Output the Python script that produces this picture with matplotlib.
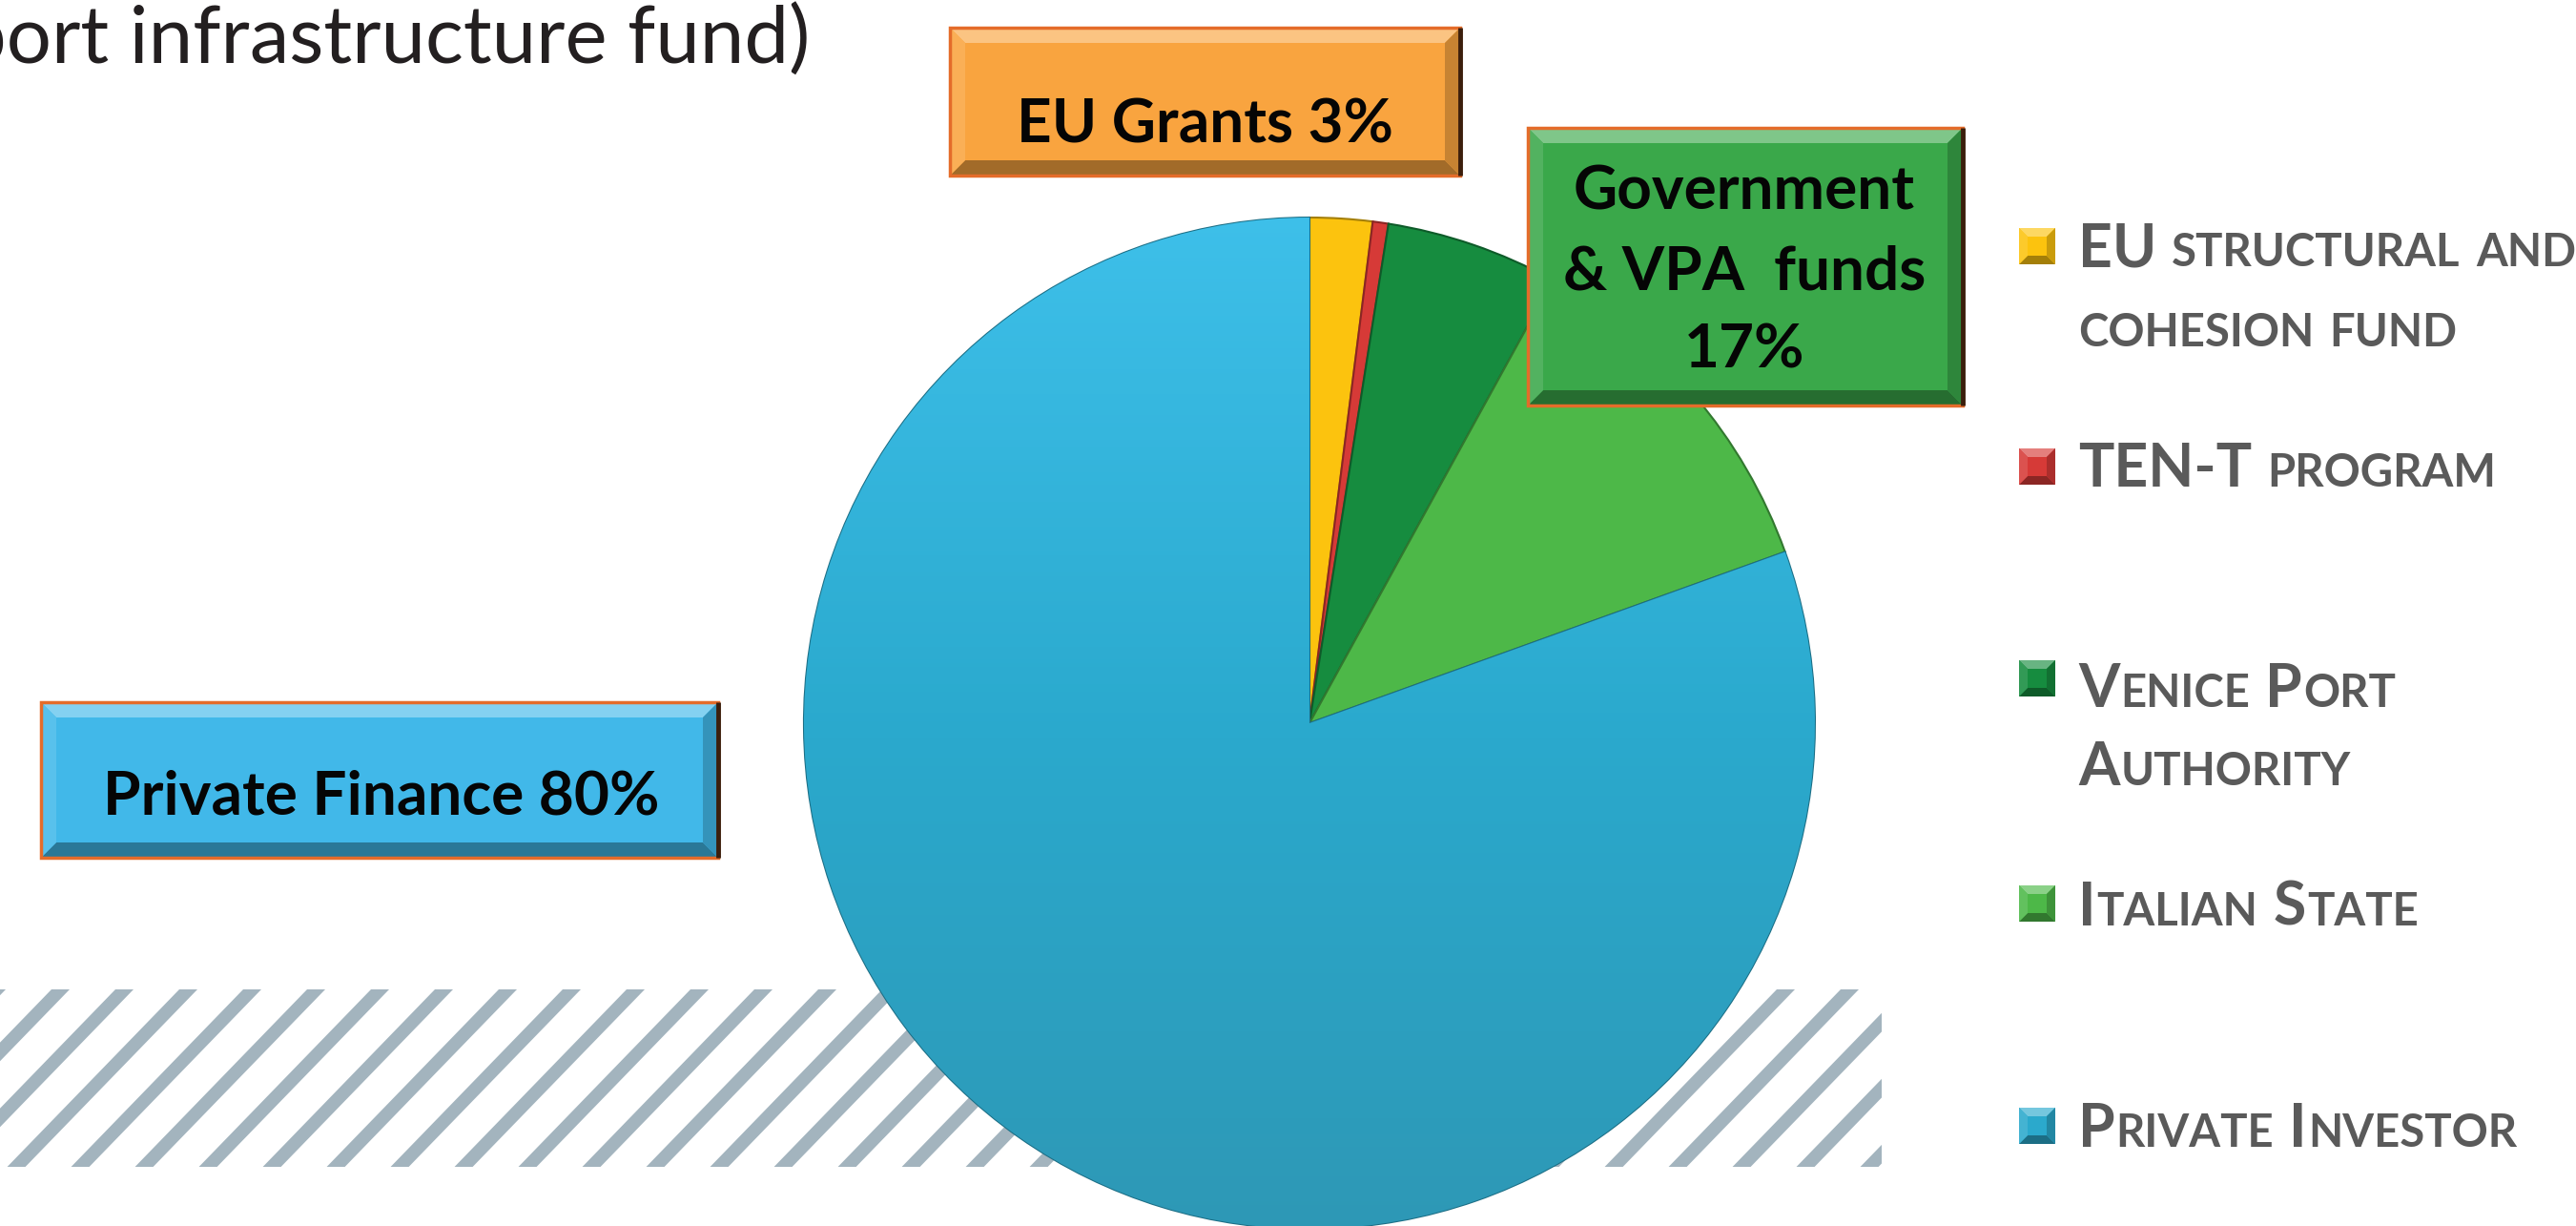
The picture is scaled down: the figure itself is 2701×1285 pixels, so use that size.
import matplotlib
matplotlib.use("Agg")
import matplotlib.pyplot as plt
import numpy as np
from matplotlib.patches import Rectangle, Polygon
from matplotlib.colors import LinearSegmentedColormap, to_rgb

W, H = 2701, 1285

# ---------------- data ----------------
categories = ["EU structural and\ncohesion fund", "TEN-T program",
              "Venice Port\nAuthority", "Italian State", "Private Investor"]
shares = [2.0, 0.5, 5.5, 11.5, 80.5]
slice_colors = ["#fcc30e", "#d63a37", "#168c3f", "#4db848", "#2ba9cc"]
explode = [0, 0, 0, 0, 0.045]
callout_texts = ["EU Grants 3%", "Government\n& VPA  funds\n17%", "Private Finance 80%"]
title_text = "port infrastructure fund)"

fig = plt.figure(figsize=(W / 100, H / 100), dpi=100)
ax = fig.add_axes([0, 0, 1, 1])


def Y(y):
    return H - y


def shade(c, f):
    r, g, b = to_rgb(c)
    if f >= 0:
        return (r + (1 - r) * f, g + (1 - g) * f, b + (1 - b) * f)
    f = -f
    return (r * (1 - f), g * (1 - f), b * (1 - f))


# ---------------- hatched band ----------------
hx0, hx1, hy0, hy1 = 0, 1973, 1037, 1223
clip_rect = Rectangle((hx0, Y(hy1)), hx1 - hx0, hy1 - hy0, facecolor="none",
                      edgecolor="none")
ax.add_patch(clip_rect)
spacing, sw = 67, 19
dx = (hy1 - hy0) * 0.97
s = 54 - 67 * 5
while s < hx1 + dx + spacing:
    poly = Polygon([(s, Y(hy0)), (s + sw, Y(hy0)), (s + sw - dx, Y(hy1)), (s - dx, Y(hy1))],
                   closed=True, facecolor="#a3b4be", edgecolor="none", zorder=1)
    ax.add_patch(poly)
    poly.set_clip_path(clip_rect)
    s += spacing

# ---------------- pie ----------------
cx, cy, R = 1373, 758, 530
wedges, _ = ax.pie(shares, colors=slice_colors, startangle=90, counterclock=False,
                   center=(cx, Y(cy)), radius=R, explode=explode, frame=True,
                   wedgeprops=dict(linewidth=1.5))
for w, c in zip(wedges, slice_colors):
    w.set_edgecolor(shade(c, -0.35))
    w.set_zorder(2)

grad = np.linspace(0, 1, 256).reshape(-1, 1)
cmap = LinearSegmentedColormap.from_list("blu", ["#3ec0ea", "#2aa9cd", "#2e97b4"])
im = ax.imshow(grad, extent=[cx - R - 40, cx + R + 40, Y(cy + R + 40), Y(cy - R - 10)],
               cmap=cmap, aspect="auto", origin="upper", zorder=2.05)
im.set_clip_path(wedges[4])

# ---------------- title ----------------
ax.text(849, Y(66), title_text, ha="right", va="baseline", fontsize=60,
        family="Lato", color="#231f20", zorder=6)


# ---------------- callout boxes ----------------
def bevel_box(x0, y0, x1, y1, base, depth=16, border=True, z=5):
    light = shade(base, 0.35)
    dark = shade(base, -0.35)
    lside = shade(base, 0.12)
    rside = shade(base, -0.2)
    ax.add_patch(Rectangle((x0, Y(y1)), x1 - x0, y1 - y0, facecolor=base,
                           edgecolor="none", zorder=z))
    polys = [
        ([(x0, y0), (x1, y0), (x1 - depth, y0 + depth), (x0 + depth, y0 + depth)], light),
        ([(x0, y1), (x1, y1), (x1 - depth, y1 - depth), (x0 + depth, y1 - depth)], dark),
        ([(x0, y0), (x0 + depth, y0 + depth), (x0 + depth, y1 - depth), (x0, y1)], lside),
        ([(x1, y0), (x1 - depth, y0 + depth), (x1 - depth, y1 - depth), (x1, y1)], rside),
    ]
    for pts, col in polys:
        ax.add_patch(Polygon([(px, Y(py)) for px, py in pts], closed=True,
                             facecolor=col, edgecolor="none", zorder=z + 0.1))
    if border:
        ax.add_patch(Rectangle((x0, Y(y1)), x1 - x0, y1 - y0, facecolor="none",
                               edgecolor="#e46c2a", linewidth=2.5, zorder=z + 0.2))
        ax.plot([x1, x1], [Y(y0), Y(y1)], color="#3b1e0c", lw=3.5, zorder=z + 0.3,
                solid_capstyle="butt")


box_font = dict(family="Lato", fontweight="bold", color="#050505", zorder=7)

bevel_box(996, 29, 1531, 184, "#f9a43f")
ax.text(1263, Y(150), callout_texts[0], ha="center", va="baseline", fontsize=46, **box_font)

bevel_box(1602, 134, 2058, 425, "#3aa84a")
for line, yb in zip(callout_texts[1].split("\n"), [219, 303, 386]):
    ax.text(1829, Y(yb), line, ha="center", va="baseline", fontsize=46, **box_font)

bevel_box(43, 736, 753, 899, "#41b8e9")
ax.text(400, Y(854), callout_texts[2], ha="center", va="baseline", fontsize=46, **box_font)

# ---------------- legend ----------------
fig.canvas.draw()
renderer = fig.canvas.get_renderer()
BIG, SMALL = 45, 34
leg_color = "#5a5a5a"


def draw_smallcaps(x, yb, text):
    words = text.split(" ")
    for wi, word in enumerate(words):
        if word == "":
            continue
        segs = []
        prev_big = True
        for ch in word:
            if ch.isalpha():
                big = ch.isupper()
            else:
                big = prev_big
            prev_big = big
            if segs and segs[-1][1] == big:
                segs[-1][0] += ch
            else:
                segs.append([ch, big])
        for seg, big in segs:
            t = ax.text(x, Y(yb), seg.upper(), ha="left", va="baseline",
                        fontsize=BIG if big else SMALL, family="Lato",
                        fontweight="bold", color=leg_color, zorder=7)
            x += t.get_window_extent(renderer).width + 1
        x += 15


marker_y = [258, 489, 711, 947, 1180]
baselines = [[279, 363], [510], [741, 823], [970], [1202]]
for lab, col, my, bls in zip(categories, slice_colors, marker_y, baselines):
    bevel_box(2117, my - 19, 2155, my + 19, col, depth=9, border=False, z=6)
    for line, yb in zip(lab.split("\n"), bls):
        draw_smallcaps(2179, yb, line)

ax.set_xlim(0, W)
ax.set_ylim(0, H)
ax.set_aspect("auto")
ax.axis("off")
fig.savefig("out.png", dpi=100, facecolor="white")
